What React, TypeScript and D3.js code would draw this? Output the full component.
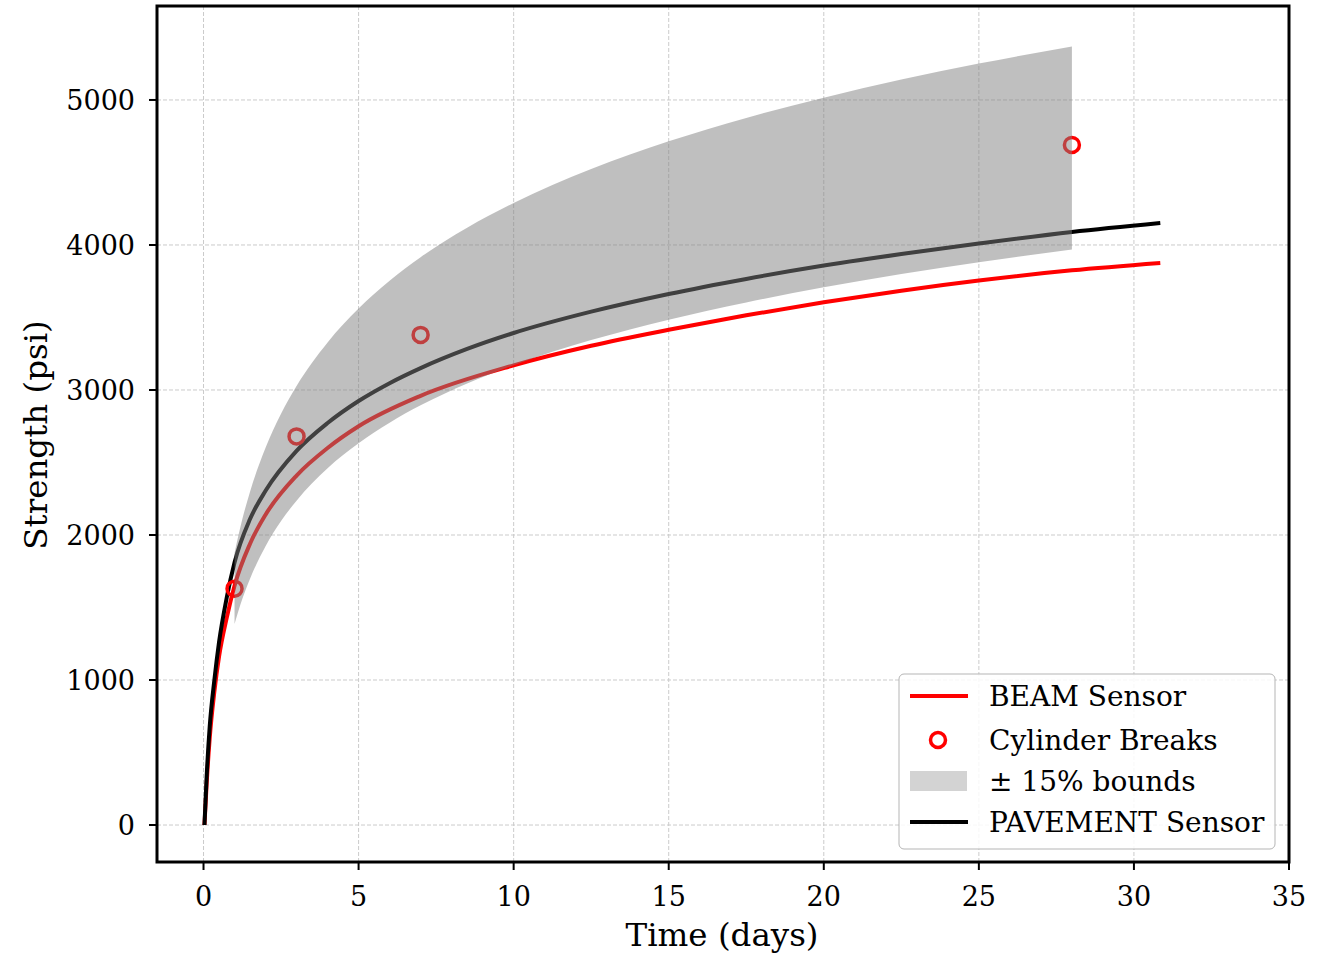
import React from "react";
import * as d3 from "d3";

// values
const beamDays = [0.03, 0.1, 0.2, 0.35, 0.5, 0.75, 1, 1.5, 2, 3, 4, 5, 7, 10, 12.5, 15, 17.5, 20, 22.5, 25, 28, 30.85];
const beamPsi = [0, 280, 600, 920, 1160, 1430, 1650, 1940, 2140, 2410, 2600, 2750, 2960, 3170, 3305, 3415, 3515, 3605, 3685, 3755, 3825, 3876];

const pavementDays = [0.03, 0.1, 0.2, 0.35, 0.5, 0.75, 1, 1.5, 2, 3, 4, 5, 6, 7, 8.5, 10, 12.5, 15, 17.5, 20, 22.5, 25, 28, 30.85];
const pavementPsi = [0, 330, 680, 1000, 1260, 1570, 1810, 2110, 2305, 2580, 2772, 2924, 3047, 3151, 3283, 3393, 3540, 3662, 3766, 3858, 3938, 4010, 4090, 4152];

const cylinderDays = [1, 3, 7, 28];
const cylinderPsi = [1630, 2680, 3380, 4690];

const boundDays = [1, 1.25, 1.5, 2, 2.5, 3, 4, 5, 6, 7, 8.5, 10, 12.5, 15, 17.5, 20, 22.5, 25, 28];
const boundUpper = [1875, 2108, 2299, 2601, 2836, 3027, 3328, 3562, 3753, 3916, 4119, 4290, 4524, 4715, 4876, 5016, 5141, 5251, 5369];
const boundLower = [1386, 1558, 1699, 1923, 2096, 2237, 2460, 2632, 2774, 2894, 3045, 3171, 3344, 3485, 3604, 3708, 3800, 3881, 3969];

const xTicks = [0, 5, 10, 15, 20, 25, 30, 35];
const yTicks = [0, 1000, 2000, 3000, 4000, 5000];

const FONT = "DejaVu Serif";

export default function App() {
  const W = 1332;
  const H = 955;
  const left = 157, right = 1289, top = 6, bottom = 862;

  const x = d3.scaleLinear().domain([-1.5, 35]).range([left, right]);
  const y = d3.scaleLinear().domain([-255, 5648]).range([bottom, top]);

  const line = d3
    .line<[number, number]>()
    .x((d) => x(d[0]))
    .y((d) => y(d[1]))
    .curve(d3.curveMonotoneX);

  const area = d3
    .area<number>()
    .x((_, i) => x(boundDays[i]))
    .y0((_, i) => y(boundLower[i]))
    .y1((_, i) => y(boundUpper[i]))
    .curve(d3.curveMonotoneX);

  const beam = line(beamDays.map((d, i) => [d, beamPsi[i]]));
  const pave = line(pavementDays.map((d, i) => [d, pavementPsi[i]]));

  // legend
  const lx = 899, ly = 674, lw = 376, lh = 175;
  const rows = [696, 740, 781, 822];

  return (
    <svg
      width={W}
      height={H}
      style={{ position: "absolute", left: 0, top: 0, background: "#fff" }}
      fontFamily={FONT}
    >
      <defs>
        <clipPath id="plot">
          <rect x={left} y={top} width={right - left} height={bottom - top} />
        </clipPath>
      </defs>

      {/* grid */}
      <g stroke="#cbcbcb" strokeWidth={1} strokeDasharray="4,2">
        {xTicks.map((t) => (
          <line key={"gx" + t} x1={x(t)} x2={x(t)} y1={top} y2={bottom} />
        ))}
        {yTicks.map((t) => (
          <line key={"gy" + t} x1={left} x2={right} y1={y(t)} y2={y(t)} />
        ))}
      </g>

      <g clipPath="url(#plot)">
        <path d={beam || ""} fill="none" stroke="#ff0000" strokeWidth={4} />
        <path d={pave || ""} fill="none" stroke="#000" strokeWidth={4} />
        {cylinderDays.map((d, i) => (
          <circle
            key={"c" + d}
            cx={x(d)}
            cy={y(cylinderPsi[i])}
            r={7.5}
            fill="none"
            stroke="#ff0000"
            strokeWidth={3.5}
          />
        ))}
        <path d={area(boundDays) || ""} fill="#808080" fillOpacity={0.5} />
      </g>

      {/* frame */}
      <rect
        x={left}
        y={top}
        width={right - left}
        height={bottom - top}
        fill="none"
        stroke="#000"
        strokeWidth={3}
      />

      {/* x axis */}
      <g>
        {xTicks.map((t) => (
          <g key={"xt" + t}>
            <line x1={x(t)} x2={x(t)} y1={bottom} y2={bottom + 8} stroke="#000" strokeWidth={2} />
            <text x={x(t)} y={906} textAnchor="middle" fontSize={27} fill="#000">
              {t}
            </text>
          </g>
        ))}
        <text x={722} y={946} textAnchor="middle" fontSize={32.5} fill="#000">
          Time (days)
        </text>
      </g>

      {/* y axis */}
      <g>
        {yTicks.map((t) => (
          <g key={"yt" + t}>
            <line x1={left - 8} x2={left} y1={y(t)} y2={y(t)} stroke="#000" strokeWidth={2} />
            <text x={135} y={y(t) + 10} textAnchor="end" fontSize={27} fill="#000">
              {t}
            </text>
          </g>
        ))}
        <text
          transform={`translate(47, 435) rotate(-90)`}
          textAnchor="middle"
          fontSize={32.5}
          fill="#000"
        >
          Strength (psi)
        </text>
      </g>

      {/* legend */}
      <g>
        <rect x={lx} y={ly} width={lw} height={lh} rx={5} fill="#fff" fillOpacity={0.85} stroke="#b5b5b5" strokeWidth={1} />
        <line x1={910} x2={968} y1={rows[0]} y2={rows[0]} stroke="#ff0000" strokeWidth={4} />
        <circle cx={938} cy={rows[1]} r={7.5} fill="none" stroke="#ff0000" strokeWidth={3.5} />
        <rect x={910} y={rows[2] - 10} width={57} height={20} fill="#d3d3d3" />
        <line x1={910} x2={968} y1={rows[3]} y2={rows[3]} stroke="#000" strokeWidth={4} />
        {["BEAM Sensor", "Cylinder Breaks", "\u00b1 15% bounds", "PAVEMENT Sensor"].map((s, i) => (
          <text key={s} x={989} y={rows[i] + 10} fontSize={28} fill="#000">
            {s}
          </text>
        ))}
      </g>
    </svg>
  );
}
